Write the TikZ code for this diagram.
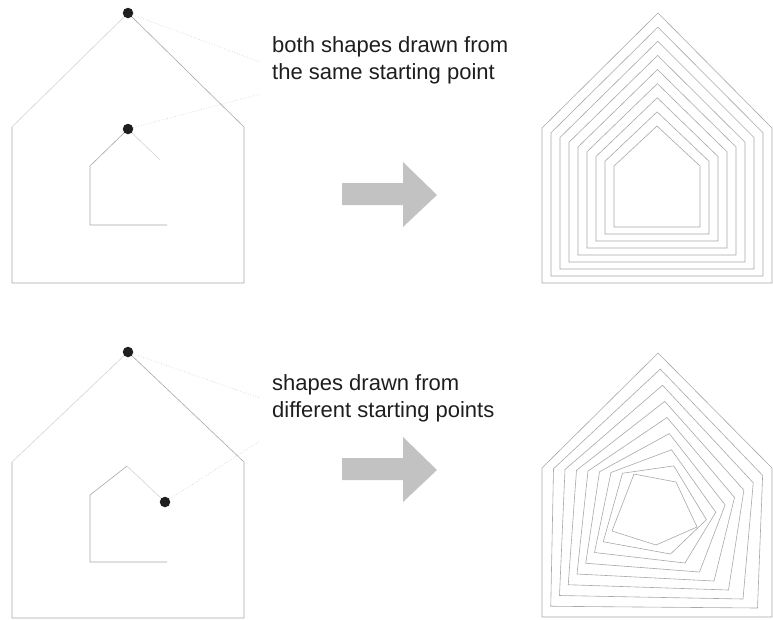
\documentclass[tikz,border=0pt]{standalone}
\usepackage{fontspec}
\setmainfont{Liberation Sans}
\usepackage{tikz}
\usetikzlibrary{calc}
\definecolor{inkdark}{HTML}{1E1E1E}
\definecolor{strokegrey}{HTML}{A8A8A8}
\definecolor{fadegrey}{HTML}{D4D4D4}
\definecolor{arrowgrey}{HTML}{C2C2C2}
\tikzset{
  housestroke/.style={draw=strokegrey,line width=0.6pt,line join=miter},
  fadestroke/.style={draw=fadegrey,line width=0.6pt},
  leader/.style={draw=fadegrey,line width=0.7pt,dotted},
  dotmark/.style={circle,fill=inkdark,inner sep=0pt,minimum size=10.5pt},
  caption/.style={anchor=north west,inner sep=0pt,align=left,text=inkdark,
    font=\fontsize{22}{27}\selectfont},
  blockarrow/.style={fill=arrowgrey,draw=none}
}

\begin{document}
\begin{tikzpicture}[x=1pt,y=-1pt]
\useasboundingbox (0,0) rectangle (773,619);

% --- top row: same starting point ---
\draw[housestroke] (128,13) -- (244,127) -- (244,283) -- (12,283) -- (12,127);
\draw[fadestroke] (12,127) -- (128,13);
\draw[housestroke] (128,129) -- (90,166) -- (90,225) -- (167,225);
\draw[fadestroke] (128,129) -- (160,160);
\node[dotmark] (topouter) at (128,13) {};
\node[dotmark] (topinner) at (128,129) {};
\node[caption] (topnote) at (272,36) {both shapes drawn from\\the same starting point};
\coordinate (topouterend) at (260,62);
\coordinate (topinnerend) at (260,94);
\draw[leader] (topouter) -- (topouterend);
\draw[leader] (topinner) -- (topinnerend);

% morph, corners matched
\coordinate (oA) at (658,13);  \coordinate (iA) at (657,126);
\coordinate (oB) at (772,128); \coordinate (iB) at (700,166);
\coordinate (oC) at (772,283); \coordinate (iC) at (700,227);
\coordinate (oD) at (542,283); \coordinate (iD) at (614,227);
\coordinate (oE) at (542,128); \coordinate (iE) at (614,166);
\foreach \t in {0,0.125,...,1.01}
  \draw[housestroke] ($(oA)!\t!(iA)$) -- ($(oB)!\t!(iB)$) -- ($(oC)!\t!(iC)$)
    -- ($(oD)!\t!(iD)$) -- ($(oE)!\t!(iE)$) -- cycle;

% --- bottom row: different starting points ---
\draw[housestroke] (128,352) -- (244,462) -- (244,618) -- (12,618) -- (12,462);
\draw[fadestroke] (12,462) -- (128,352);
\draw[housestroke] (127,466) -- (90,495) -- (90,562) -- (167,562);
\draw[fadestroke] (165,502) -- (127,466);
\node[dotmark] (lowouter) at (128,352) {};
\node[dotmark] (lowinner) at (165,502) {};
\node[caption] (lownote) at (272,374) {shapes drawn from\\different starting points};
\coordinate (lowouterend) at (260,398);
\coordinate (lowinnerend) at (260,441);
\draw[leader] (lowouter) -- (lowouterend);
\draw[leader] (lowinner) -- (lowinnerend);

% morph, start moved half an edge along
\coordinate (pA) at (658,353); \coordinate (jA) at (676,482);
\coordinate (pB) at (772,468); \coordinate (jB) at (697,527);
\coordinate (pC) at (772,617); \coordinate (jC) at (656,545);
\coordinate (pD) at (542,617); \coordinate (jD) at (612,531);
\coordinate (pE) at (542,468); \coordinate (jE) at (634,474);
\foreach \t in {0,0.125,...,1.01}
  \draw[housestroke] ($(pA)!\t!(jA)$) -- ($(pB)!\t!(jB)$) -- ($(pC)!\t!(jC)$)
    -- ($(pD)!\t!(jD)$) -- ($(pE)!\t!(jE)$) -- cycle;

% block arrows
\foreach \dy in {0,275}
  \fill[blockarrow,yshift=-\dy] (342,183) -- (403,183) -- (403,162) -- (437,195)
    -- (403,227) -- (403,205) -- (342,205) -- cycle;
\end{tikzpicture}
\end{document}
